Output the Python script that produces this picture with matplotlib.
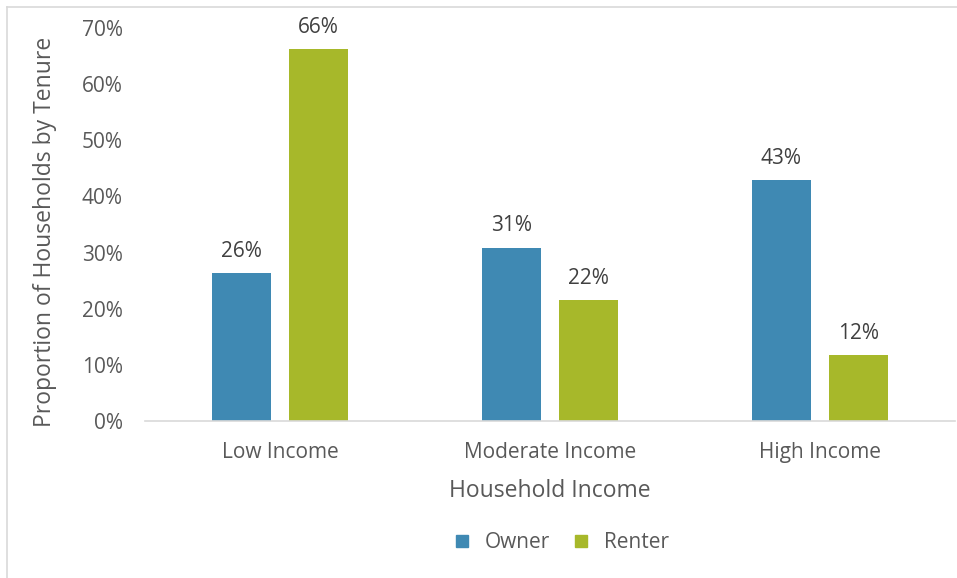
import numpy as np
import matplotlib
matplotlib.use("Agg")
import matplotlib.pyplot as plt
from matplotlib.lines import Line2D

categories = ["Low Income", "Moderate Income", "High Income"]
owner = [26.4, 30.9, 42.9]
renter = [66.3, 21.6, 11.8]
owner_labels = ["26%", "31%", "43%"]
renter_labels = ["66%", "22%", "12%"]
yticks = [0, 10, 20, 30, 40, 50, 60, 70]

plt.rcParams.update({"font.family": ["Open Sans", "DejaVu Sans"], "font.size": 15})
TXT = "#595959"
C_OWN, C_REN = "#3F89B3", "#A7B82A"

fig = plt.figure(figsize=(9.57, 5.78), dpi=100)
ax = fig.add_axes([145 / 957, 1 - 421 / 578, 810 / 957, 393 / 578])

x = np.arange(len(categories))
w, off = 0.222, 0.1426
b1 = ax.bar(x - off, owner, w, color=C_OWN, label="Owner")
b2 = ax.bar(x + off, renter, w, color=C_REN, label="Renter")
for bars, labs in ((b1, owner_labels), (b2, renter_labels)):
    for b, t in zip(bars, labs):
        ax.annotate(t, (b.get_x() + b.get_width() / 2, b.get_height()),
                    xytext=(0, 8), textcoords="offset points",
                    ha="center", va="bottom", color="#404040", fontsize=15)

ax.set_xlim(-0.5, 2.5)
ax.set_ylim(0, 70)
ax.set_yticks(yticks)
ax.set_yticklabels([f"{v}%" for v in yticks])
ax.set_xticks(x)
ax.set_xticklabels(categories)
ax.tick_params(length=0, colors=TXT, labelsize=15)
ax.tick_params(axis="y", pad=16)
ax.tick_params(axis="x", pad=15)
for s in ("top", "right", "left"):
    ax.spines[s].set_visible(False)
ax.spines["bottom"].set_color("#d9d9d9")
ax.spines["bottom"].set_linewidth(1.2)

fig.text(45 / 957, 1 - 232 / 578, "Proportion of Households by Tenure", rotation=90,
         ha="center", va="center", color=TXT, fontsize=16.5)
fig.text(550 / 957, 1 - 491 / 578, "Household Income", ha="center", va="center",
         color=TXT, fontsize=16.5)

handles = [Line2D([], [], marker="s", ls="", color=C_OWN, ms=9),
           Line2D([], [], marker="s", ls="", color=C_REN, ms=9)]
fig.legend(handles, ["Owner", "Renter"], loc="center", bbox_to_anchor=(560 / 957, 1 - 543 / 578),
           ncol=2, frameon=False, fontsize=15, labelcolor=TXT, handletextpad=0.6,
           columnspacing=1.0, handlelength=1.0)

# chart frame edges (left/top)
fig.add_artist(Line2D([7 / 957, 7 / 957], [0, 1 - 7 / 578], color="#d9d9d9", lw=1.2))
fig.add_artist(Line2D([7 / 957, 1], [1 - 7 / 578, 1 - 7 / 578], color="#d9d9d9", lw=1.2))

fig.savefig("out.png", dpi=100)
